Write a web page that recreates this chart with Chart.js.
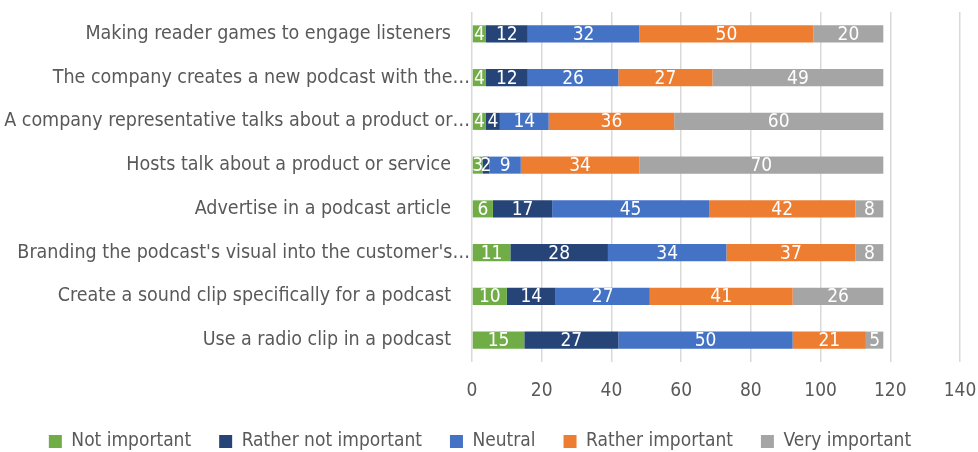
<!DOCTYPE html>
<html>
<head>
<meta charset="utf-8">
<script src="https://cdn.jsdelivr.net/npm/chart.js@4"></script>
<style>
  body { margin: 0; background: #fff; }
  #wrap { width: 978px; height: 452px; }
</style>
</head>
<body>
<div id="wrap"><canvas id="chart" width="978" height="452"></canvas></div>
<script>
// categories, top to bottom
const categories = [
    'Making reader games to engage listeners',
    'The company creates a new podcast with the\u2026',
    'A company representative talks about a product or\u2026',
    'Hosts talk about a product or service',
    'Advertise in a podcast article',
    'Branding the podcast\'s visual into the customer\'s\u2026',
    'Create a sound clip specifically for a podcast',
    'Use a radio clip in a podcast'
];
const seriesNames = ['Not important', 'Rather not important', 'Neutral', 'Rather important', 'Very important'];
const notImportant = [4, 4, 4, 3, 6, 11, 10, 15];
const ratherNot = [12, 12, 4, 2, 17, 28, 14, 27];
const neutral = [32, 26, 14, 9, 45, 34, 27, 50];
const ratherImportant = [50, 27, 36, 34, 42, 37, 41, 21];
const veryImportant = [20, 49, 60, 70, 8, 8, 26, 5];
const xTicks = [0, 20, 40, 60, 80, 100, 120, 140];

const colors = ['#70AD47', '#264478', '#4472C4', '#ED7D31', '#A5A5A5'];
const allData = [notImportant, ratherNot, neutral, ratherImportant, veryImportant];

const font = "'DejaVu Sans Condensed', 'Liberation Sans', Arial, sans-serif";

// white value labels centred in each bar segment
const barLabels = {
    id: 'barLabels',
    afterDatasetsDraw(chart) {
        const ctx = chart.ctx;
        ctx.save();
        ctx.font = '19px ' + font;
        ctx.fillStyle = '#ffffff';
        ctx.textAlign = 'center';
        ctx.textBaseline = 'middle';
        chart.data.datasets.forEach((ds, i) => {
            const meta = chart.getDatasetMeta(i);
            meta.data.forEach((bar, j) => {
                const cx = (bar.x + bar.base) / 2;
                ctx.fillText(ds.data[j], cx, bar.y + 1);
            });
        });
        ctx.restore();
    }
};

// category labels: truncated ones run right up to the axis, like Excel does
const categoryLabels = {
    id: 'categoryLabels',
    afterDraw(chart) {
        const ctx = chart.ctx;
        const y = chart.scales.y;
        const left = chart.chartArea.left;
        ctx.save();
        ctx.font = '19.5px ' + font;
        ctx.fillStyle = '#595959';
        ctx.textAlign = 'right';
        ctx.textBaseline = 'middle';
        categories.forEach((label, i) => {
            const gap = label.endsWith('\u2026') ? 2 : 21;
            ctx.fillText(label, left - gap, y.getPixelForValue(i));
        });
        ctx.restore();
    }
};

new Chart(document.getElementById('chart'), {
    type: 'bar',
    data: {
        labels: categories,
        datasets: seriesNames.map((name, i) => ({
            label: name,
            data: allData[i],
            backgroundColor: colors[i],
            borderWidth: 0,
            categoryPercentage: 1,
            barPercentage: 0.39
        }))
    },
    options: {
        indexAxis: 'y',
        responsive: false,
        animation: false,
        layout: { padding: { top: 12, right: 18, bottom: -9, left: 0 } },
        scales: {
            x: {
                stacked: true,
                min: 0,
                max: 140,
                border: { display: false },
                grid: { color: '#d9d9d9', lineWidth: 1.5, drawTicks: false },
                afterBuildTicks(scale) {
                    scale.ticks = xTicks.map(v => ({ value: v }));
                },
                afterFit(scale) {
                    scale.height = 42;
                    scale.paddingLeft = 0;
                    scale.paddingRight = 0;
                },
                ticks: {
                    padding: 18,
                    color: '#595959',
                    font: { family: font, size: 19 }
                }
            },
            y: {
                stacked: true,
                border: { display: false },
                grid: { display: false },
                afterFit(scale) {
                    scale.width = 472;
                    scale.paddingTop = 0;
                    scale.paddingBottom = 0;
                },
                ticks: { display: false }
            }
        },
        plugins: {
            legend: {
                position: 'bottom',
                labels: {
                    boxWidth: 13,
                    boxHeight: 13,
                    padding: 28,
                    color: '#595959',
                    font: { family: font, size: 19 }
                }
            },
            tooltip: { enabled: false }
        }
    },
    plugins: [barLabels, categoryLabels]
});
</script>
</body>
</html>
